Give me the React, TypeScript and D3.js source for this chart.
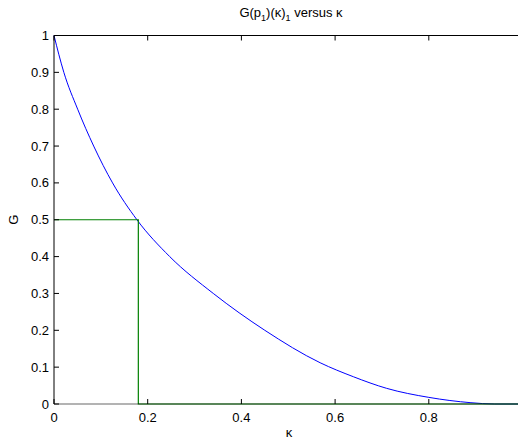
import React from "react";
import * as d3 from "d3";

const kappa = [0, 0.021, 0.0505, 0.0847, 0.125, 0.177, 0.247, 0.34, 0.45, 0.568, 0.639, 0.71, 0.8, 0.89, 0.94, 1.0];
const gValues = [1, 0.9, 0.8, 0.7, 0.6, 0.5, 0.4, 0.3, 0.2, 0.112, 0.074, 0.0425, 0.018, 0.0035, 0, 0];

const stepKappa = [0, 0.18, 0.18, 1.0];
const stepValues = [0.5, 0.5, 0, 0];

const xTicks = [0, 0.2, 0.4, 0.6, 0.8, 1];
const xTickLabels = ["0", "0.2", "0.4", "0.6", "0.8", ""];
const yTicks = [0, 0.1, 0.2, 0.3, 0.4, 0.5, 0.6, 0.7, 0.8, 0.9, 1];

const W = 518;
const H = 439;
const left = 54;
const right = 522.5;
const top = 35.5;
const bottom = 404;

export default function App() {
  const x = d3.scaleLinear().domain([0, 1]).range([left, right]);
  const y = d3.scaleLinear().domain([0, 1]).range([bottom, top]);

  const curve = d3
    .line<number>()
    .x((_, i) => x(kappa[i]))
    .y((d) => y(d))
    .curve(d3.curveMonotoneX)(gValues);

  const step = d3
    .line<number>()
    .x((_, i) => x(stepKappa[i]))
    .y((d) => y(d))(stepValues);

  const font = "Liberation Sans, Arial, Helvetica, sans-serif";
  const tl = 5;

  return (
    <svg
      width={W}
      height={H}
      style={{ position: "absolute", left: 0, top: 0, background: "#fff" }}
      fontFamily={font}
    >
      <rect x={0} y={0} width={W} height={H} fill="#fff" />
      <path d={curve || ""} fill="none" stroke="#0000ff" strokeWidth={1} />
      <path d={step || ""} fill="none" stroke="#008000" strokeWidth={1.2} />
      <line x1={left} x2={right} y1={top} y2={top} stroke="#000" strokeWidth={1} />
      <line x1={left} x2={left} y1={top} y2={bottom} stroke="#000" strokeWidth={1} />
      <line x1={left} x2={right} y1={bottom} y2={bottom} stroke="#000" strokeWidth={0.6} />
      {xTicks.map((t, i) => (
        <g key={"x" + t}>
          <line x1={x(t)} x2={x(t)} y1={bottom} y2={bottom - tl} stroke="#000" />
          <line x1={x(t)} x2={x(t)} y1={top} y2={top + tl} stroke="#000" />
          {xTickLabels[i] && (
            <text x={x(t)} y={422} fontSize={13} textAnchor="middle" fill="#000">
              {xTickLabels[i]}
            </text>
          )}
        </g>
      ))}
      {yTicks.map((t) => (
        <g key={"y" + t}>
          <line x1={left} x2={left + tl} y1={y(t)} y2={y(t)} stroke="#000" />
          <text x={49} y={y(t) + 4.5} fontSize={13} textAnchor="end" fill="#000">
            {String(t)}
          </text>
        </g>
      ))}
      <text x={289} y={437} fontSize={13} textAnchor="middle" fill="#000">
        κ
      </text>
      <text
        transform={`translate(18, ${(top + bottom) / 2}) rotate(-90)`}
        fontSize={13}
        textAnchor="middle"
        fill="#000"
      >
        G
      </text>
      <text x={291} y={17} fontSize={13} textAnchor="middle" fill="#000">
        G(p
        <tspan fontSize={9} dy={4}>1</tspan>
        <tspan dy={-4}>)(κ)</tspan>
        <tspan fontSize={9} dy={4}>1</tspan>
        <tspan dy={-4}> versus κ</tspan>
      </text>
    </svg>
  );
}
